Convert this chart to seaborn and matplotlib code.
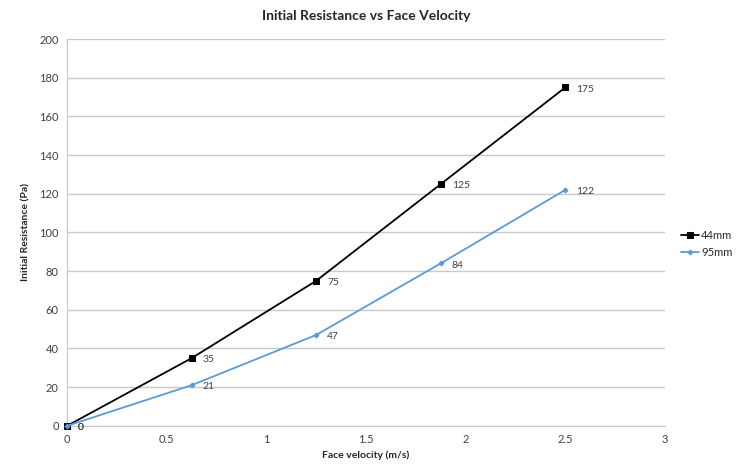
import pandas as pd
import matplotlib.pyplot as plt
import seaborn as sns

velocity = [0, 0.625, 1.25, 1.875, 2.5]
res_44mm = [0, 35, 75, 125, 175]
res_95mm = [0, 21, 47, 84, 122]
series_names = ['44mm', '95mm']

df = pd.DataFrame({
    'Face velocity (m/s)': velocity * 2,
    'Initial Resistance (Pa)': res_44mm + res_95mm,
    'series': [series_names[0]] * len(velocity) + [series_names[1]] * len(velocity),
})

sns.set_style('white')
plt.rcParams['font.family'] = ['Lato', 'DejaVu Sans']

fig = plt.figure(figsize=(7.54, 4.70), dpi=100)
ax = fig.add_axes([0.089, 0.094, 0.793, 0.823])

colors = {'44mm': 'black', '95mm': '#5B9BD5'}
markers = {'44mm': 's', '95mm': 'D'}
sizes = {'44mm': 5, '95mm': 2.5}

for name in series_names:
    sub = df[df['series'] == name]
    sns.lineplot(x='Face velocity (m/s)', y='Initial Resistance (Pa)', data=sub, ax=ax,
                 color=colors[name], marker=markers[name], markersize=sizes[name],
                 markeredgecolor=colors[name], linewidth=1.3, label=name)
    for xv, yv in zip(sub['Face velocity (m/s)'], sub['Initial Resistance (Pa)']):
        ax.annotate(str(yv), (xv, yv), xytext=(8, -3), textcoords='offset points',
                    fontsize=7.5, color='#404040')

for line in ax.lines:
    line.set_clip_on(False)
    line.set_zorder(5)

ax.set_xlim(0, 3)
ax.set_ylim(0, 200)
ax.set_xticks([0, 0.5, 1, 1.5, 2, 2.5, 3])
ax.set_xticklabels(['0', '0.5', '1', '1.5', '2', '2.5', '3'])
ax.set_yticks(range(0, 201, 20))
ax.yaxis.grid(True, color='#c8c8c8', linewidth=1)
ax.xaxis.grid(False)
ax.tick_params(labelsize=8, colors='#404040', length=0, pad=6)
for s in ['top', 'right']:
    ax.spines[s].set_visible(False)
for s in ['left', 'bottom']:
    ax.spines[s].set_color('#c8c8c8')

ax.set_title('Initial Resistance vs Face Velocity', fontsize=10, fontweight='bold', pad=14)
ax.set_xlabel('Face velocity (m/s)', fontsize=7.5, fontweight='bold', labelpad=4)
ax.set_ylabel('Initial Resistance (Pa)', fontsize=7.5, fontweight='bold', labelpad=6)

ax.legend(loc='center left', bbox_to_anchor=(1.01, 0.47), frameon=False, fontsize=8,
          handlelength=1.6, handletextpad=0.2, labelspacing=0.6)

plt.savefig('out.png', dpi=100)
